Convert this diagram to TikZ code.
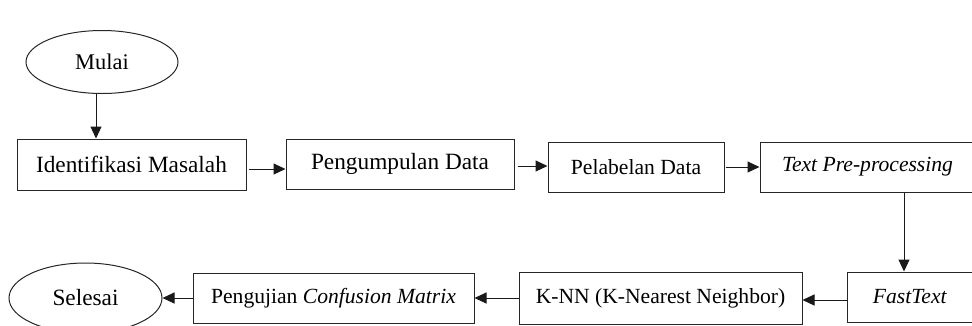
\documentclass[tikz,border=0pt]{standalone}
\usepackage{fontspec}
\setmainfont{Liberation Serif}
\usetikzlibrary{arrows.meta,shapes.geometric}
\tikzset{
  box/.style={draw=black!85, line width=1pt, rectangle, inner sep=0pt, align=center},
  oval/.style={draw=black!85, line width=1pt, ellipse, inner sep=0pt, align=center},
  arr/.style={draw=black!90, line width=1pt, -{Triangle[length=12pt,width=11pt]}},
  big/.style={font=\fontsize{23.3}{27}\selectfont},
  mid/.style={font=\fontsize{22.4}{26}\selectfont},
  sml/.style={font=\fontsize{21.6}{25}\selectfont}
}
\begin{document}
\begin{tikzpicture}[x=1pt,y=-1pt]
\useasboundingbox (0,0) rectangle (972,325);
\clip (0,0) rectangle (972,325);
\node[oval, mid, minimum width=152pt, minimum height=63pt] (mulai) at (102,62) {Mulai};
\node[box, big, minimum width=229pt, minimum height=51pt] (ident) at (131.5,164.5) {Identifikasi Masalah};
\node[box, big, minimum width=228pt, minimum height=50pt] (peng) at (400,164) {Pengumpulan Data};
\node[box, sml, minimum width=176pt, minimum height=50pt] (pelab) at (636,167) {Pelabelan Data};
\node[box, sml, minimum width=215pt, minimum height=50pt] (tpp) at (867.5,167) {\textit{Text Pre-processing}};
\node[box, sml, minimum width=126pt, minimum height=50pt] (fast) at (910,297) {\textit{FastText}};
\node[box, sml, minimum width=283pt, minimum height=52pt] (knn) at (660.5,298) {K-NN (K-Nearest Neighbor)};
\node[box, sml, minimum width=281pt, minimum height=50pt] (uji) at (333.5,298) {Pengujian \textit{Confusion Matrix}};
\node[oval, big, minimum width=153pt, minimum height=70pt] (selesai) at (85.5,298) {Selesai};

\draw[arr] ([xshift=-6pt]mulai.south) -- ([xshift=-6pt]mulai.south |- ident.north);
\draw[arr] ([xshift=2pt,yshift=-4.5pt]ident.east) -- ([yshift=-4.5pt]ident.east -| peng.west);
\draw[arr] ([xshift=3pt,yshift=-2pt]peng.east) -- ([yshift=-2pt]peng.east -| pelab.west);
\draw[arr] ([xshift=1pt]pelab.east) -- (pelab.east -| tpp.west);
\draw[arr] ([xshift=36.5pt]tpp.south) -- ([xshift=36.5pt]tpp.south |- fast.north);
\draw[arr] ([yshift=-3pt]fast.west) -- ([yshift=-3pt]fast.west -| knn.east);
\draw[arr] (knn.west) -- (knn.west -| uji.east);
\draw[arr] (uji.west) -- (selesai.east);
\end{tikzpicture}
\end{document}
